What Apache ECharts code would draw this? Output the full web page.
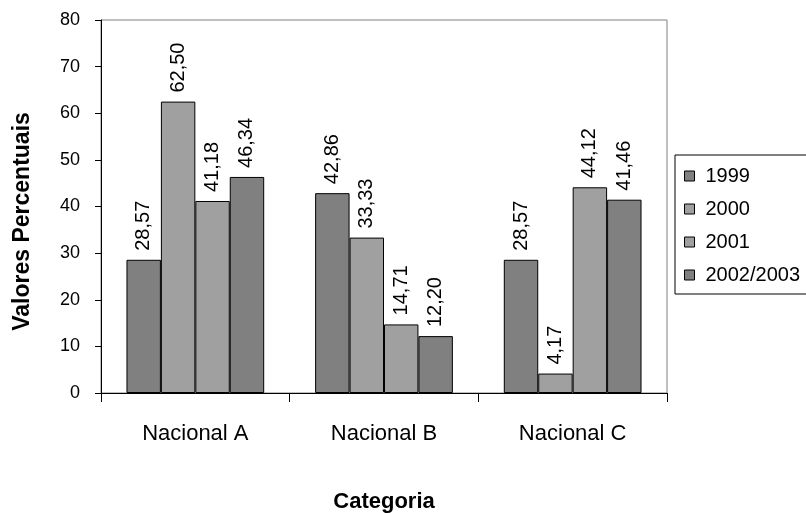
<!DOCTYPE html>
<html>
<head>
<meta charset="utf-8">
<script src="https://cdn.jsdelivr.net/npm/echarts@6/dist/echarts.min.js"></script>
<style>html,body{margin:0;padding:0;background:#fff}#c{width:806px;height:513px}</style>
</head>
<body>
<div id="c"></div>
<script>
// Categories and yearly percentages
const categories = ['Nacional A', 'Nacional B', 'Nacional C'];
const years = ['1999', '2000', '2001', '2002/2003'];
const v1999 = [28.57, 42.86, 28.57];
const v2000 = [62.50, 33.33, 4.17];
const v2001 = [41.18, 14.71, 44.12];
const v2002 = [46.34, 12.20, 41.46];
const yTicks = [0, 10, 20, 30, 40, 50, 60, 70, 80];

const seriesValues = [v1999, v2000, v2001, v2002];
const colors = ['#808080', '#a0a0a0', '#a0a0a0', '#808080'];
const font = 'Liberation Sans, Arial, sans-serif';

const chart = echarts.init(document.getElementById('c'));
chart.setOption({
  animation: false,
  backgroundColor: '#fff',
  textStyle: { fontFamily: font },
  grid: {
    left: 101, right: 139, top: 20, bottom: 120,
    outerBoundsMode: 'none', containLabel: false,
    show: true, borderColor: '#808080', borderWidth: 1, backgroundColor: 'transparent'
  },
  legend: {
    orient: 'vertical', left: 675, top: 155,
    padding: [11, 60, 9, 9],
    itemGap: 13, itemWidth: 10, itemHeight: 10,
    borderColor: '#000', borderWidth: 1,
    icon: 'rect',
    textStyle: { fontFamily: font, fontSize: 20, lineHeight: 20, color: '#000', padding: [0, 0, 0, 6] },
    itemStyle: { borderColor: '#000', borderWidth: 1 },
    data: years
  },
  xAxis: {
    type: 'category', data: categories,
    name: 'Categoria', nameLocation: 'middle', nameGap: 98,
    nameTextStyle: { fontFamily: font, fontSize: 22, fontWeight: 'bold', color: '#000' },
    axisLine: { lineStyle: { color: '#000', width: 1 } },
    axisTick: { show: true, length: 9, interval: 0, lineStyle: { color: '#000' } },
    axisLabel: { fontFamily: font, fontSize: 22, color: '#000', margin: 30 }
  },
  yAxis: {
    type: 'value', min: yTicks[0], max: yTicks[yTicks.length - 1], interval: 10,
    name: 'Valores Percentuais', nameLocation: 'middle', nameGap: 67,
    nameTextStyle: { fontFamily: font, fontSize: 23, fontWeight: 'bold', color: '#000', padding: [0, 30, 0, 0] },
    axisLine: { show: true, lineStyle: { color: '#000', width: 1 } },
    axisTick: { show: true, length: 6, lineStyle: { color: '#000' } },
    axisLabel: { fontFamily: font, fontSize: 18, color: '#000', margin: 21 },
    splitLine: { show: false }
  },
  series: seriesValues.map((vals, i) => ({
    name: years[i], type: 'bar', data: vals,
    barGap: '0%', barCategoryGap: '27%',
    itemStyle: { color: colors[i], borderColor: '#000', borderWidth: 1 },
    label: {
      show: true, position: 'top', rotate: 90, distance: 9, align: 'left', verticalAlign: 'middle',
      fontFamily: font, fontSize: 20, color: '#000',
      formatter: p => p.value.toFixed(2).replace('.', ',')
    }
  }))
});
</script>
</body>
</html>
